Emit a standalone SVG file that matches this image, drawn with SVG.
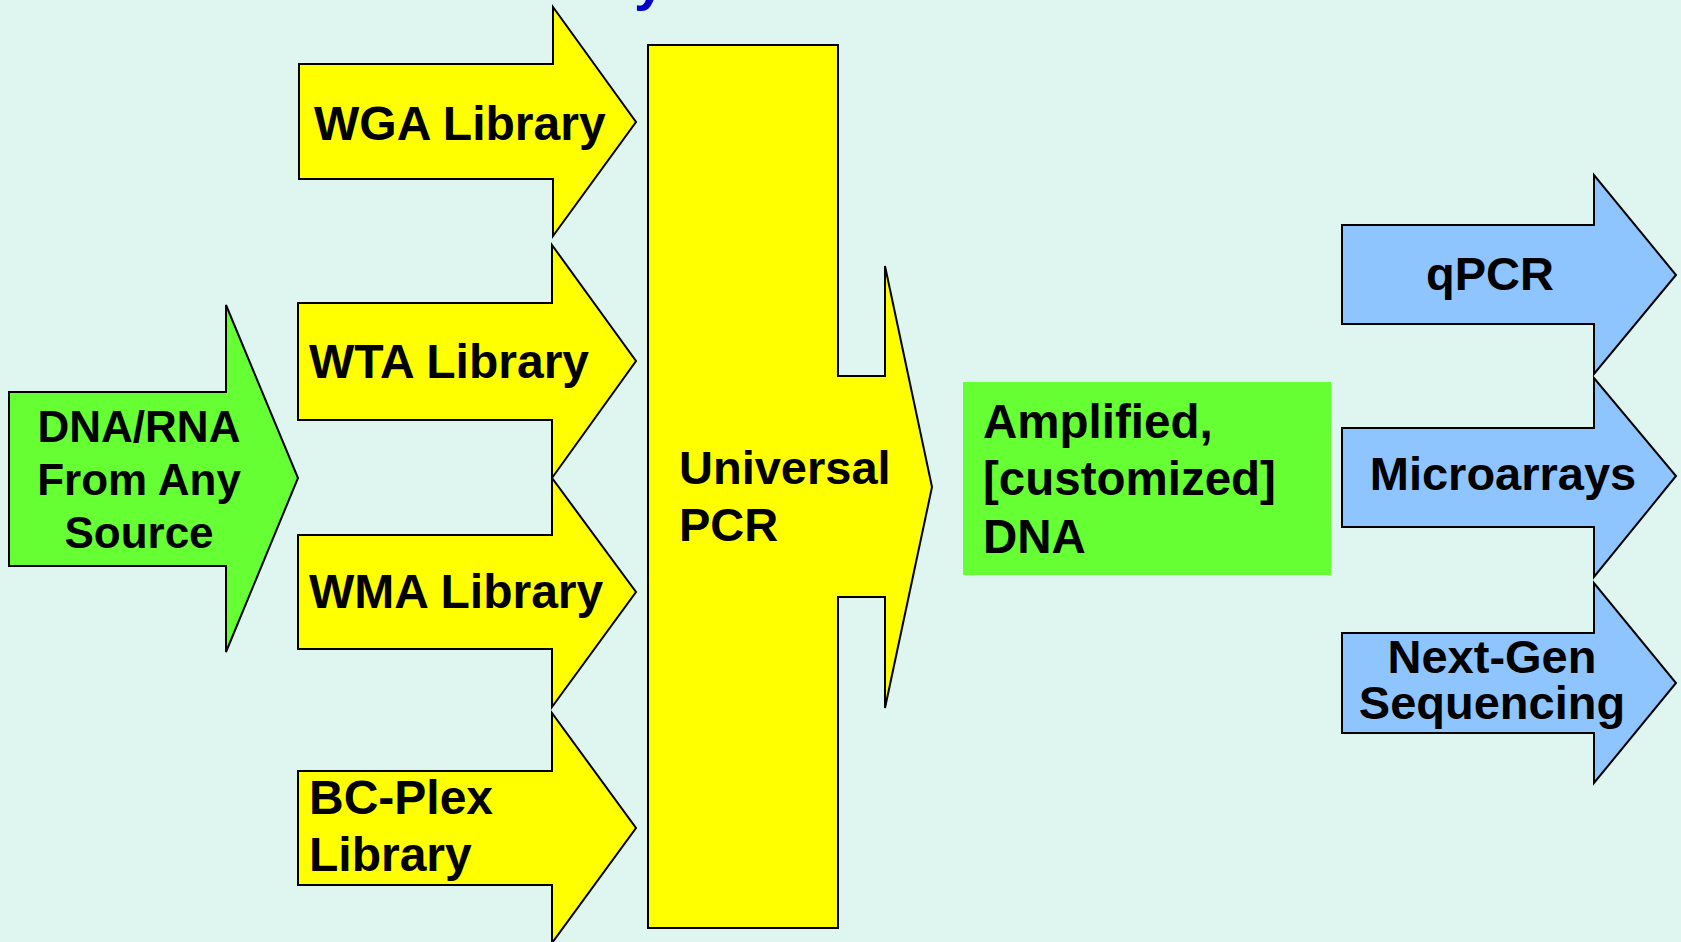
<svg xmlns="http://www.w3.org/2000/svg" width="1681" height="942" viewBox="0 0 1681 942">
<style>
.y{fill:#FFFF00;stroke:#000;stroke-width:2;stroke-linejoin:miter}
.g{fill:#66FF33;stroke:#000;stroke-width:2}
.b{fill:#8EC5FF;stroke:#000;stroke-width:2}
text{font-family:"Liberation Sans",Arial,sans-serif;font-weight:bold;font-size:47px;fill:#000}
.c{text-anchor:middle}
.l{font-size:48px}
</style>
<rect x="0" y="0" width="1681" height="942" fill="#DFF5EF"/>
<text x="634" y="-1" style="font-size:56px;fill:#0000CC">y</text>
<g id="connectors"></g>
<g id="source">
<polygon class="g" points="9,392 226,392 226,305 298,478 226,652 226,566 9,566"/>
<text class="c" x="139" y="442" style="font-size:44px">DNA/RNA</text>
<text class="c" x="139" y="495" style="font-size:44px">From Any</text>
<text class="c" x="139" y="548" style="font-size:44px">Source</text>
</g>
<g id="wga">
<polygon class="y" points="299,64 553,64 553,7 636,122 553,236 553,179 299,179"/>
<text class="l" x="314" y="140">WGA Library</text>
</g>
<g id="wta">
<polygon class="y" points="298,303 552,303 552,245 636,361 552,478 552,420 298,420"/>
<text class="l" x="309" y="378">WTA Library</text>
</g>
<g id="wma">
<polygon class="y" points="298,535 552,535 552,478 636,592 552,707 552,649 298,649"/>
<text class="l" x="309" y="608">WMA Library</text>
</g>
<g id="bcplex">
<polygon class="y" points="298,771 552,771 552,713 636,828 552,943 552,885 298,885"/>
<text class="l" x="309" y="814">BC-Plex</text>
<text class="l" x="309" y="871">Library</text>
</g>
<g id="pcr">
<polygon class="y" points="648,45 838,45 838,376 885,376 885,266 932,487 885,708 885,597 838,597 838,928 648,928"/>
<text x="679" y="484">Universal</text>
<text x="679" y="541">PCR</text>
</g>
<g id="amplified">
<rect x="963" y="382" width="368" height="193" fill="#66FF33"/>
<text x="983" y="438" style="font-size:47.5px">Amplified,</text>
<text x="983" y="495" style="font-size:47.5px">[customized]</text>
<text x="983" y="553" style="font-size:47.5px">DNA</text>
</g>
<g id="qpcr">
<polygon class="b" points="1342,225 1594,225 1594,175 1676,275 1594,374 1594,324 1342,324"/>
<text class="c" x="1490" y="290">qPCR</text>
</g>
<g id="microarrays">
<polygon class="b" points="1342,428 1594,428 1594,378 1676,476 1594,577 1594,527 1342,527"/>
<text class="c" x="1503" y="490">Microarrays</text>
</g>
<g id="nextgen">
<polygon class="b" points="1342,633 1594,633 1594,583 1676,683 1594,783 1594,733 1342,733"/>
<text class="c" x="1492" y="673" style="font-size:47px">Next-Gen</text>
<text class="c" x="1492" y="719" style="font-size:47px">Sequencing</text>
</g>
</svg>
